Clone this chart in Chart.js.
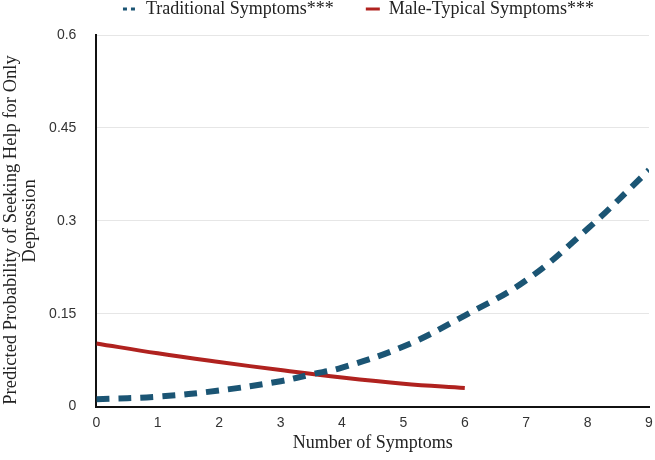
<!DOCTYPE html>
<html>
<head>
<meta charset="utf-8">
<script src="https://cdn.jsdelivr.net/npm/chart.js@4.4.1/dist/chart.umd.min.js"></script>
<style>
  html, body { margin: 0; padding: 0; background: #fff; }
  #wrap { width: 655px; height: 460px; position: relative; }
</style>
</head>
<body>
<div id="wrap"><canvas id="chart"></canvas></div>
<script>
// symptom counts and predicted probabilities
const traditionalX = [0, 1, 2, 3, 3.5, 4, 5, 6, 7, 8, 9];
const traditionalY = [0.012, 0.016, 0.026, 0.041, 0.052, 0.063, 0.097, 0.147, 0.204, 0.287, 0.382];
const maleX = [0, 1, 2, 3, 4, 5, 6];
const maleY = [0.102, 0.086, 0.072, 0.059, 0.047, 0.037, 0.030];
const yTicks = [0, 0.15, 0.3, 0.45, 0.6];

function toPoints(xs, ys) {
  return xs.map((x, i) => ({ x: x, y: ys[i] }));
}

// legend hugs the top edge, a bit right of centre
const legendNudge = {
  id: 'legendNudge',
  beforeLayout(chart) {
    const lg = chart.legend;
    if (!lg || lg._nudged) return;
    const fit = lg.fit;
    lg.fit = function () { fit.call(this); this.height += 7; };
    lg._nudged = true;
  },
  afterLayout(chart) {
    const lg = chart.legend;
    if (!lg) return;
    lg.left += 34;
    lg.right += 34;
  }
};

const ctx = document.getElementById('chart').getContext('2d');
const chart = new Chart(ctx, {
  type: 'line',
  data: {
    datasets: [{
      label: 'Traditional Symptoms***',
      data: toPoints(traditionalX, traditionalY),
      borderColor: '#1b5574',
      backgroundColor: '#1b5574',
      borderWidth: 6,
      borderDash: [13, 9],
      pointRadius: 0,
      pointStyle: 'line',
      tension: 0.4,
      fill: false
    }, {
      label: 'Male-Typical Symptoms***',
      data: toPoints(maleX, maleY),
      borderColor: '#b0221f',
      backgroundColor: '#b0221f',
      borderWidth: 4,
      pointRadius: 0,
      pointStyle: 'line',
      tension: 0.4,
      fill: false
    }]
  },
  plugins: [legendNudge],
  options: {
    responsive: true,
    maintainAspectRatio: false,
    animation: false,
    layout: { padding: { left: 0, right: 6, top: -32, bottom: 6 } },
    plugins: {
      tooltip: { enabled: false },
      legend: {
        position: 'top',
        labels: {
          usePointStyle: true,
          pointStyleWidth: 14,
          boxHeight: 8,
          padding: 32,
          color: '#222',
          font: { family: 'Liberation Serif', size: 18 },
          generateLabels: (c) => {
            const items = Chart.defaults.plugins.legend.labels.generateLabels(c);
            items.forEach((it, i) => {
              it.lineWidth = 3;
              it.lineDash = i === 0 ? [4, 4] : [];
            });
            return items;
          }
        }
      }
    },
    scales: {
      x: {
        type: 'linear',
        min: 0,
        max: 9,
        afterFit: (s) => { s.paddingRight = 0; },
        ticks: {
          stepSize: 1,
          color: '#333',
          padding: 8,
          font: { family: 'Liberation Sans', size: 14 }
        },
        grid: { display: false, drawTicks: false },
        border: { color: '#111', width: 2 },
        title: {
          display: true,
          text: 'Number of Symptoms',
          color: '#222',
          padding: { top: -7, bottom: 0 },
          font: { family: 'Liberation Serif', size: 18 }
        }
      },
      y: {
        min: 0,
        max: 0.6,
        afterBuildTicks: (axis) => {
          axis.ticks = yTicks.map(v => ({ value: v }));
        },
        afterFit: (s) => { s.paddingTop = 0; },
        ticks: {
          color: '#333',
          padding: 20,
          font: { family: 'Liberation Sans', size: 14 },
          callback: (v) => String(v)
        },
        grid: { color: '#e6e6e6', drawTicks: false },
        border: { color: '#111', width: 2 },
        title: {
          display: true,
          text: ['Predicted Probability of Seeking Help for Only    ', 'Depression'],
          color: '#222',
          padding: { top: 1.5, bottom: -10.5 },
          font: { family: 'Liberation Serif', size: 18.5, lineHeight: 1.03 }
        }
      }
    }
  }
});
</script>
</body>
</html>
